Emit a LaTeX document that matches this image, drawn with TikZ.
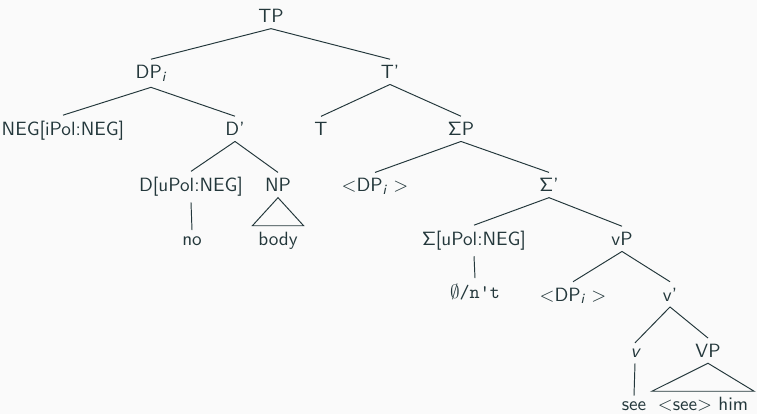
\documentclass[tikz,border=0pt]{standalone}
\definecolor{inkteal}{HTML}{23373B}
\definecolor{paper}{HTML}{FAFAFA}
% sans italic letters, as used for indices and the light verb
\newcommand{\sfitalic}[1]{\mbox{\sffamily\itshape #1}}
\newcommand{\idx}[1]{$_{\mbox{\fontsize{8}{9}\selectfont\sffamily\itshape #1}}$}
\begin{document}
\begin{tikzpicture}[x=0.571pt,y=-0.571pt,
  every node/.style={font=\fontsize{10.95}{13.6}\selectfont\sffamily, text=inkteal,
    inner sep=3.4pt, outer sep=0pt, anchor=base},
  branch/.style={draw=inkteal, line width=0.55pt},
  roofline/.style={draw=inkteal, line width=0.55pt, line join=miter}]
\useasboundingbox (0,0) rectangle (757,414);
\fill[paper] (0,0) rectangle (757,414);

% level 0
\node (tp) at (271,22.7) {TP};
% level 1
\node (dp) at (151,78.5) {DP\idx{i}};
\node (tbar) at (390,78.5) {T'};
% level 2
\node (neg) at (63,135.5) {NEG[iPol:NEG]};
\node (dbar) at (235,135.5) {D'};
\node (t) at (321,135.5) {T};
\node (sigp) at (461,135.5) {$\mathsf{\Sigma}$P};
% level 3
\node (dupol) at (191,191.7) {D[uPol:NEG]};
\node (np) at (278,191.7) {NP};
\node (dptra) at (375,191.7) {$<$DP\idx{i} $>$};
\node (sigbar) at (549,191.7) {$\mathsf{\Sigma}$'};
% level 4
\node (no) at (192,245) {no};
\node (body) at (278,245) {body};
\node (sigupol) at (474,245.5) {$\mathsf{\Sigma}$[uPol:NEG]};
\node (vp) at (622,245.5) {vP};
% level 5
\node (nt) at (475,298.5) {$\emptyset$\texttt{/n't}};
\node (dptrb) at (573,301) {$<$DP\idx{i} $>$};
\node (vbar) at (670,301) {v'};
% level 6
\node (vhead) at (635,357.3) {\sfitalic{v}};
\node (vpbig) at (708,357.3) {VP};
% level 7
\node (see) at (634,410.5) {see};
\node (seehim) at (703,410.5) {$<$see$>$ him};

% branches
\draw[branch] (tp.south) -- (dp.north);
\draw[branch] (tp.south) -- (tbar.north);
\draw[branch] (dp.south) -- (neg.north);
\draw[branch] (dp.south) -- (dbar.north);
\draw[branch] (tbar.south) -- (t.north);
\draw[branch] (tbar.south) -- (sigp.north);
\draw[branch] (dbar.south) -- (dupol.north);
\draw[branch] (dbar.south) -- (np.north);
\draw[branch] (sigp.south) -- (dptra.north);
\draw[branch] (sigp.south) -- (sigbar.north);
\draw[branch] (dupol.south) -- (no.north);
\draw[roofline] (np.south) -- (body.north west) -- (body.north east) -- cycle;
\draw[branch] (sigbar.south) -- (sigupol.north);
\draw[branch] (sigbar.south) -- (vp.north);
\draw[branch] (sigupol.south) -- (nt.north);
\draw[branch] (vp.south) -- (dptrb.north);
\draw[branch] (vp.south) -- (vbar.north);
\draw[branch] (vbar.south) -- (vhead.north);
\draw[branch] (vbar.south) -- (vpbig.north);
\draw[branch] (vhead.south) -- (see.north);
\draw[roofline] (vpbig.south) -- (seehim.north west) -- (seehim.north east) -- cycle;
\end{tikzpicture}
\end{document}
